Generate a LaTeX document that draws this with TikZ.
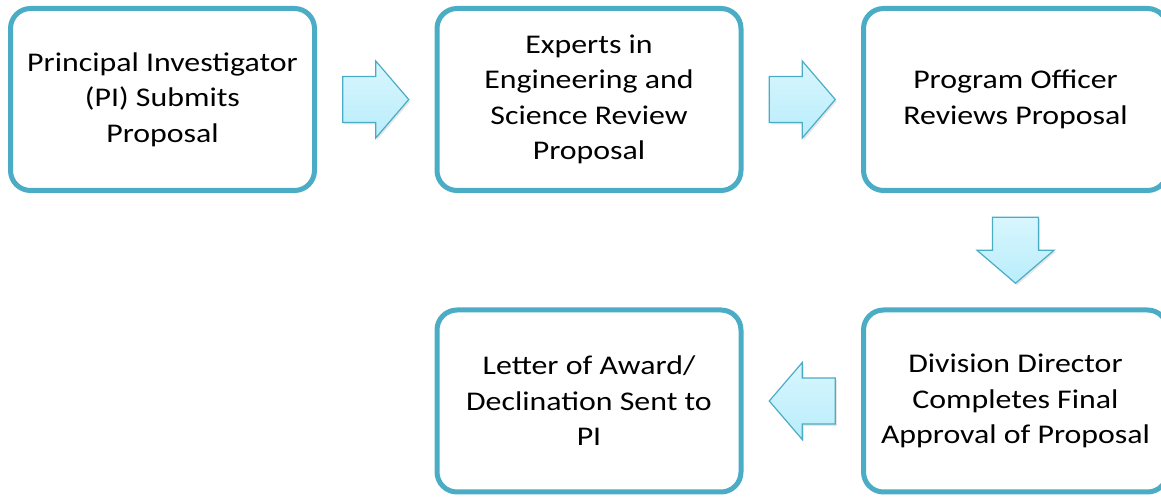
\documentclass[tikz,border=0pt]{standalone}
\usepackage{fontspec}
\setmainfont{Carlito}[FakeStretch=1.18]
\usetikzlibrary{calc,shadows}
\definecolor{aqua}{HTML}{4BACC6}
\definecolor{arrowtop}{HTML}{D8F6FE}
\definecolor{arrowbot}{HTML}{B9EDFB}

\tikzset{
 stepbox/.style={draw=aqua, line width=5pt, rounded corners=20pt, fill=white,
   minimum width=304pt, minimum height=182pt, align=center,
   font=\fontsize{27}{35.5}\selectfont},
 blockarrow/.pic={
   \draw[draw=aqua, line width=1.2pt, top color=arrowtop, bottom color=arrowbot,
     drop shadow={opacity=.2,shadow xshift=1.5pt,shadow yshift=-2pt}]
   (-33,-23) -- (0,-23) -- (0,-38.5) -- (33,0) -- (0,38.5) -- (0,23) -- (-33,23) -- cycle;
 }
}

\begin{document}
\begin{tikzpicture}[x=1pt,y=1pt]
\useasboundingbox (0,0) rectangle (1161,497);
\node[stepbox] (submit) at (162.5,397.5) {Principal Investigator\\(PI) Submits\\Proposal};
\node[stepbox] (experts) at (589,397.5) {Experts in\\Engineering and\\Science Review\\Proposal};
\node[stepbox] (officer) at (1015.5,397.5) {Program Officer\\Reviews Proposal};
\node[stepbox] (director) at (1015.5,96) {Division Director\\Completes Final\\Approval of Proposal};
\node[stepbox] (letter) at (589,96) {Letter of Award/\\Declination Sent to\\PI};
% block arrows between the steps
\pic at ($(submit.east)!.5!(experts.west)$) {blockarrow};
\pic at ($(experts.east)!.5!(officer.west)$) {blockarrow};
\pic[rotate=-90] at ($(officer.south)!.5!(director.north)$) {blockarrow};
\pic[rotate=180] at ($(director.west)!.5!(letter.east)$) {blockarrow};
\end{tikzpicture}
\end{document}
